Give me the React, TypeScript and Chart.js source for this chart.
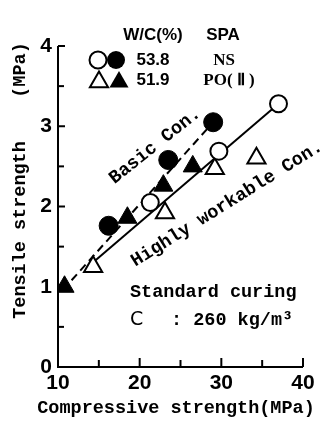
import React, { useEffect, useRef } from "react";
import { Chart, registerables } from "chart.js";

Chart.register(...registerables);

// axis ticks
const xTicks = [10, 20, 30, 40];
const yTicks = [0, 1, 2, 3, 4];
const xMinorTicks = [15, 20, 25, 30, 35, 40];
const yMinorTicks = [0.5, 1, 1.5, 2, 2.5, 3, 3.5, 4];

// Basic Con. — NS (filled circles), PO(II) (filled triangles)
const basicNsX = [16.2, 23.5, 29.0];
const basicNsY = [1.76, 2.58, 3.05];
const basicPoX = [10.8, 18.5, 22.9, 26.5];
const basicPoY = [1.0, 1.86, 2.26, 2.5];

// Highly workable Con. — NS (open circles), PO(II) (open triangles)
const highNsX = [21.3, 29.7, 37.0];
const highNsY = [2.05, 2.69, 3.28];
const highPoX = [14.3, 23.1, 29.2, 34.3];
const highPoY = [1.25, 1.92, 2.47, 2.6];

// regression lines
const basicLineX = [10.6, 29.0];
const basicLineY = [0.96, 3.05];
const highLineX = [14.6, 37.0];
const highLineY = [1.33, 3.28];

const zip = (xs: number[], ys: number[]) => xs.map((x, i) => ({ x, y: ys[i] }));

const MONO = "'Liberation Mono', 'Courier New', monospace";

const decorPlugin = {
  id: "decor",
  afterDatasetsDraw(chart: any) {
    const { ctx, chartArea, scales } = chart;
    const xs = scales.x;
    const ys = scales.y;
    const left = chartArea.left;
    const bottom = chartArea.bottom;
    ctx.save();
    ctx.strokeStyle = "#000";
    ctx.fillStyle = "#000";
    ctx.lineWidth = 2;
    ctx.setLineDash([]);
    // axes
    ctx.beginPath();
    ctx.moveTo(left, ys.getPixelForValue(4));
    ctx.lineTo(left, bottom);
    ctx.lineTo(xs.getPixelForValue(40), bottom);
    ctx.stroke();
    // y ticks inward
    yMinorTicks.forEach((v) => {
      const y = ys.getPixelForValue(v);
      const len = Number.isInteger(v) ? 7 : 6;
      ctx.beginPath();
      ctx.moveTo(left, y);
      ctx.lineTo(left + len, y);
      ctx.stroke();
    });
    // x ticks inward
    xMinorTicks.forEach((v) => {
      const x = xs.getPixelForValue(v);
      const len = v % 10 === 0 ? 9 : 7;
      ctx.beginPath();
      ctx.moveTo(x, bottom);
      ctx.lineTo(x, bottom - len);
      ctx.stroke();
    });

    // annotation texts
    ctx.font = `bold 18.5px ${MONO}`;
    ctx.textBaseline = "middle";
    ctx.textAlign = "center";
    const rot = (text: string, cx: number, cy: number, deg: number) => {
      ctx.save();
      ctx.translate(cx, cy);
      ctx.rotate((deg * Math.PI) / 180);
      ctx.fillText(text, 0, 0);
      ctx.restore();
    };
    rot("Basic Con.", 155, 146, -38.5);
    rot("Highly workable Con.", 227, 204, -32);

    ctx.textAlign = "left";
    ctx.fillText("Standard curing", 130, 292);
    ctx.fillText(": 260 kg/m\u00b3", 171, 320);
    ctx.font = "19px 'DejaVu Sans'";
    ctx.fillText("C", 130, 320);

    // axis titles
    ctx.font = `bold 18.5px ${MONO}`;
    ctx.textAlign = "center";
    ctx.fillText("Compressive strength(MPa)", 176, 408);
    rot("Tensile strength", 20, 230, -90);
    rot("(MPa)", 20, 70, -90);

    // legend
    ctx.font = "bold 17px 'Liberation Sans'";
    ctx.textAlign = "center";
    ctx.fillText("W/C(%)", 153, 35);
    ctx.fillText("SPA", 223, 35);
    ctx.fillText("53.8", 153, 60);
    ctx.fillText("51.9", 153, 80);
    ctx.font = "bold 17px 'Liberation Serif'";
    ctx.fillText("NS", 224, 61);
    ctx.fillText("PO( \u2161 )", 229, 81);

    const circle = (x: number, y: number, r: number, filled: boolean) => {
      ctx.beginPath();
      ctx.arc(x, y, r, 0, Math.PI * 2);
      if (filled) ctx.fill();
      else {
        ctx.fillStyle = "#fff";
        ctx.fill();
        ctx.fillStyle = "#000";
        ctx.stroke();
      }
    };
    const tri = (x: number, y: number, r: number, filled: boolean) => {
      ctx.beginPath();
      for (let i = 0; i < 3; i++) {
        const a = (i * 2 * Math.PI) / 3;
        const px = x + Math.sin(a) * r;
        const py = y - Math.cos(a) * r;
        if (i === 0) ctx.moveTo(px, py);
        else ctx.lineTo(px, py);
      }
      ctx.closePath();
      if (filled) ctx.fill();
      else ctx.stroke();
    };
    circle(98, 60, 8.5, false);
    circle(116, 60, 9, true);
    tri(99, 82, 10.5, false);
    tri(119, 82, 11, true);
    ctx.restore();
  },
};

export default function App() {
  const ref = useRef<HTMLCanvasElement | null>(null);
  useEffect(() => {
    if (!ref.current) return;
    const chart = new Chart(ref.current, {
      type: "scatter",
      data: {
        datasets: [
          {
            data: zip(basicNsX, basicNsY),
            pointStyle: "circle",
            pointRadius: 9.5,
            backgroundColor: "#000",
            borderColor: "#000",
            borderWidth: 1,
          },
          {
            data: zip(basicPoX, basicPoY),
            pointStyle: "triangle",
            pointRadius: 11,
            backgroundColor: "#000",
            borderColor: "#000",
            borderWidth: 1,
          },
          {
            data: zip(highNsX, highNsY),
            pointStyle: "circle",
            pointRadius: 8.5,
            backgroundColor: "#fff",
            borderColor: "#000",
            borderWidth: 2,
          },
          {
            data: zip(highPoX, highPoY),
            pointStyle: "triangle",
            pointRadius: 10.5,
            backgroundColor: "#fff",
            borderColor: "#000",
            borderWidth: 2,
          },
          {
            data: zip(basicLineX, basicLineY),
            showLine: true,
            pointRadius: 0,
            borderColor: "#000",
            borderWidth: 2,
            borderDash: [8, 5],
          },
          {
            data: zip(highLineX, highLineY),
            showLine: true,
            pointRadius: 0,
            borderColor: "#000",
            borderWidth: 2,
          },
        ],
      },
      options: {
        animation: false,
        responsive: false,
        events: [],
        layout: { padding: { top: 46, right: 17, left: 0, bottom: 0 } },
        plugins: { legend: { display: false }, tooltip: { enabled: false } },
        scales: {
          x: {
            type: "linear",
            min: 10,
            max: 40,
            afterBuildTicks: (s: any) => {
              s.ticks = xTicks.map((v) => ({ value: v }));
            },
            afterFit: (s: any) => {
              s.height = 56;
            },
            grid: { display: false, drawTicks: false },
            border: { display: false },
            ticks: {
              padding: 4,
              color: "#000",
              font: { family: "'Liberation Sans'", size: 21, weight: "bold" },
            },
          },
          y: {
            type: "linear",
            min: 0,
            max: 4,
            afterBuildTicks: (s: any) => {
              s.ticks = yTicks.map((v) => ({ value: v }));
            },
            afterFit: (s: any) => {
              s.width = 58;
            },
            grid: { display: false, drawTicks: false },
            border: { display: false },
            ticks: {
              padding: 6,
              color: "#000",
              font: { family: "'Liberation Sans'", size: 21, weight: "bold" },
            },
          },
        },
      },
      plugins: [decorPlugin],
    } as any);
    return () => chart.destroy();
  }, []);
  return (
    <div style={{ position: "absolute", left: 0, top: 0, width: 320, height: 423, background: "#fff" }}>
      <canvas ref={ref} width={320} height={423} />
    </div>
  );
}
